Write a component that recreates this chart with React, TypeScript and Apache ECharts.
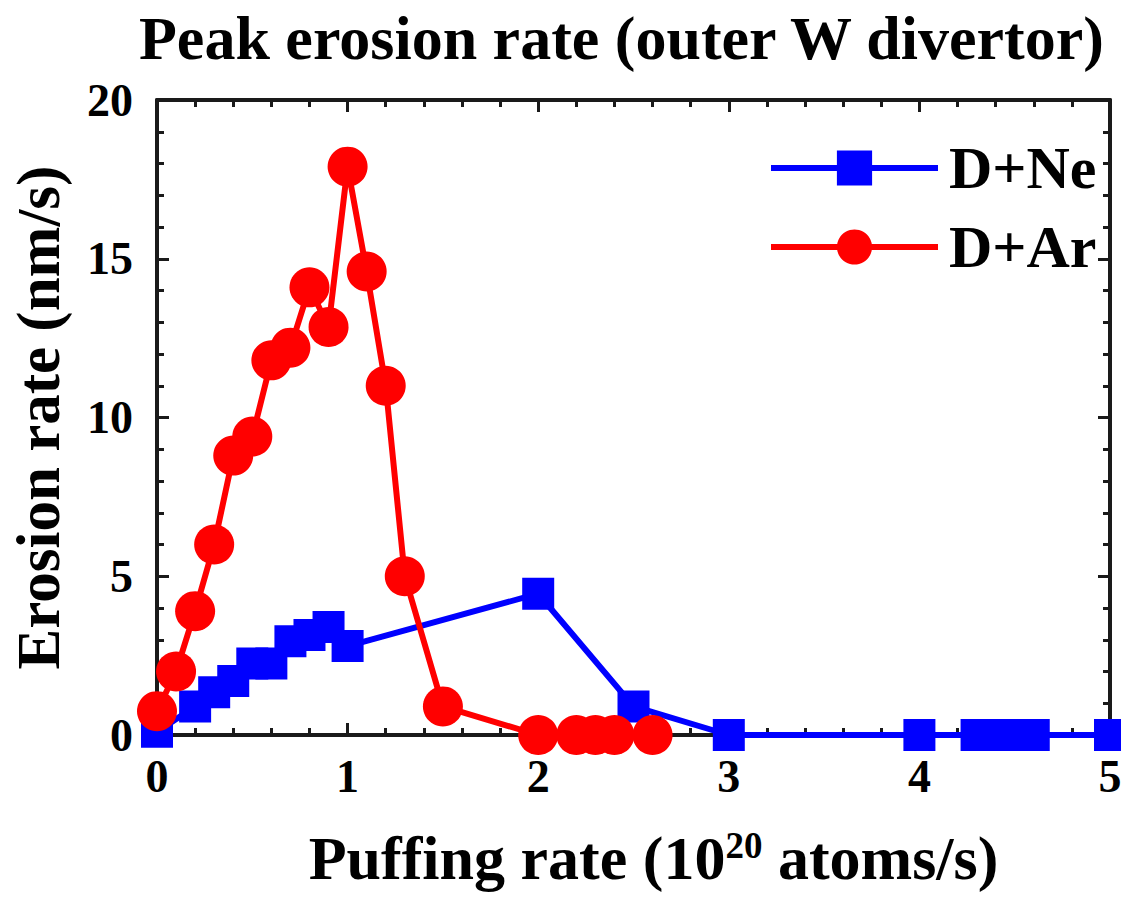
import React, { useEffect, useRef } from "react";
import * as echarts from "echarts";

const titleText = "Peak erosion rate (outer W divertor)";
const xTicks = [0, 1, 2, 3, 4, 5];
const yTicks = [0, 5, 10, 15, 20];

const neName = "D+Ne";
const neX = [0, 0.2, 0.3, 0.4, 0.5, 0.6, 0.7, 0.8, 0.9, 1.0, 2.0, 2.5, 3.0, 4.0, 4.3, 4.45, 4.6, 5.0];
const neY = [0.1, 0.9, 1.35, 1.7, 2.25, 2.25, 2.95, 3.15, 3.4, 2.8, 4.45, 0.9, 0, 0, 0, 0, 0, 0];

const arName = "D+Ar";
const arX = [0, 0.1, 0.2, 0.3, 0.4, 0.5, 0.6, 0.7, 0.8, 0.9, 1.0, 1.1, 1.2, 1.3, 1.5, 2.0, 2.2, 2.3, 2.4, 2.6];
const arY = [0.75, 2.0, 3.9, 6.0, 8.8, 9.4, 11.8, 12.2, 14.1, 12.85, 17.9, 14.6, 11.0, 5.0, 0.9, 0, 0, 0, 0, 0];

const FONT = "'Liberation Serif', 'Times New Roman', serif";
const AXIS_COLOR = "#1a1a1a";

function pairs(xs: number[], ys: number[]) {
  return xs.map((x, i) => [x, ys[i]]);
}

export default function App() {
  const ref = useRef<HTMLDivElement>(null);
  useEffect(() => {
    if (!ref.current) return;
    const chart = echarts.init(ref.current, undefined, { renderer: "svg" });
    const axisCommon = {
      axisLine: { show: true, onZero: false, lineStyle: { color: AXIS_COLOR, width: 4 } },
      axisTick: { show: true, inside: true, length: 12, lineStyle: { color: AXIS_COLOR, width: 3 } },
      minorTick: { show: true, splitNumber: 5, length: 7, lineStyle: { color: AXIS_COLOR, width: 3 } },
      splitLine: { show: false },
      minorSplitLine: { show: false },
    };
    chart.setOption({
      animation: false,
      backgroundColor: "#ffffff",
      title: {
        text: titleText,
        left: 134,
        top: 2,
        textStyle: { fontFamily: FONT, fontWeight: "bold", fontSize: 62, color: "#000" },
      },
      legend: {
        orient: "vertical",
        left: 763,
        top: 133,
        itemWidth: 167,
        itemHeight: 44,
        itemGap: 19,
        data: [neName, arName],
        lineStyle: { width: 6 },
        textStyle: {
          fontFamily: FONT,
          fontWeight: "bold",
          fontSize: 60,
          lineHeight: 44,
          color: "#000",
          padding: [0, 0, 0, 6],
        },
      },
      grid: { left: 157, right: 11, top: 100, bottom: 164, containLabel: false, outerBoundsMode: "none" },
      xAxis: [
        {
          type: "value",
          min: 0,
          max: 5,
          interval: 1,
          position: "bottom",
          ...axisCommon,
          axisLabel: {
            show: true,
            margin: 18,
            fontFamily: FONT,
            fontWeight: "bold",
            fontSize: 46,
            color: "#000",
            formatter: (v: number) => (xTicks.includes(v) ? String(v) : ""),
          },
          name: "{a|Puffing rate (10}{b|20}{a| atoms/s)}",
          nameLocation: "middle",
          nameGap: 92,
          nameTextStyle: {
            padding: [0, 0, 0, 40],
            rich: {
              a: { fontFamily: FONT, fontWeight: "bold", fontSize: 62, color: "#000" },
              b: { fontFamily: FONT, fontWeight: "bold", fontSize: 37, color: "#000", verticalAlign: "top", padding: [0, 0, 22, 0] },
            },
          },
        },
        {
          type: "value",
          min: 0,
          max: 5,
          interval: 1,
          position: "top",
          ...axisCommon,
          axisLabel: { show: false },
        },
      ],
      yAxis: [
        {
          type: "value",
          min: 0,
          max: 20,
          interval: 5,
          position: "left",
          ...axisCommon,
          axisLabel: {
            show: true,
            margin: 24,
            fontFamily: FONT,
            fontWeight: "bold",
            fontSize: 46,
            color: "#000",
            formatter: (v: number) => (yTicks.includes(v) ? String(v) : ""),
          },
          name: "Erosion rate (nm/s)",
          nameLocation: "middle",
          nameGap: 88,
          nameTextStyle: { fontFamily: FONT, fontWeight: "bold", fontSize: 61, color: "#000" },
        },
        {
          type: "value",
          min: 0,
          max: 20,
          interval: 5,
          position: "right",
          ...axisCommon,
          axisLabel: { show: false },
        },
      ],
      series: [
        {
          name: neName,
          type: "line",
          data: pairs(neX, neY),
          symbol: "rect",
          symbolSize: 32,
          clip: false,
          color: "#0000ff",
          itemStyle: { color: "#0000ff" },
          lineStyle: { color: "#0000ff", width: 6 },
        },
        {
          name: arName,
          type: "line",
          data: pairs(arX, arY),
          symbol: "circle",
          symbolSize: 40,
          clip: false,
          color: "#ff0000",
          itemStyle: { color: "#ff0000" },
          lineStyle: { color: "#ff0000", width: 6 },
        },
      ],
    });
    return () => chart.dispose();
  }, []);
  return (
    <div
      ref={ref}
      style={{ position: "absolute", left: 0, top: 0, width: 1121, height: 899, background: "#fff" }}
    />
  );
}
